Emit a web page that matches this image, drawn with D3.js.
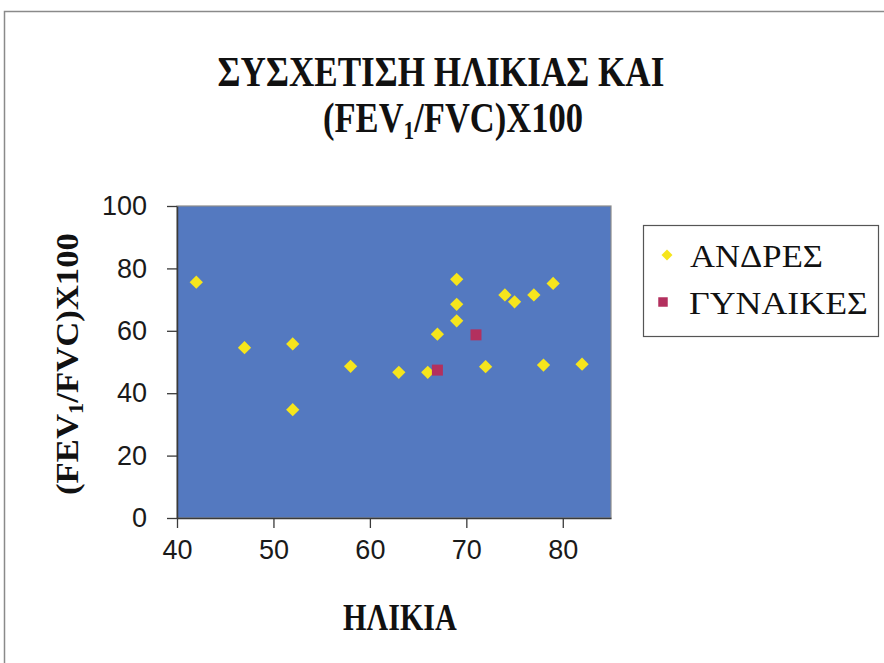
<!DOCTYPE html>
<html>
<head>
<meta charset="utf-8">
<script src="https://cdn.jsdelivr.net/npm/d3@7"></script>
<style>
  html, body { margin: 0; padding: 0; background: #ffffff; }
  svg { display: block; }
</style>
</head>
<body>
<svg id="chart" width="884" height="663"></svg>
<script>
// Age (years) vs FEV1/FVC ratio (%)
const menAge   = [42, 47, 52, 52, 58, 63, 66, 67, 69, 69, 69, 72, 74, 75, 77, 79, 78, 82];
const menRatio = [75.6, 54.6, 55.8, 34.7, 48.6, 46.7, 46.7, 58.9, 76.5, 68.5, 63.2, 48.5, 71.5, 69.3, 71.5, 75.2, 49.0, 49.3];
const womenAge   = [67, 71];
const womenRatio = [47.4, 58.7];

const xTicks = [40, 50, 60, 70, 80];
const yTicks = [0, 20, 40, 60, 80, 100];

const seriesNames = ["ΑΝΔΡΕΣ", "ΓΥΝΑΙΚΕΣ"];
const titleLines = ["ΣΥΣΧΕΤΙΣΗ ΗΛΙΚΙΑΣ ΚΑΙ", "(FEV", "1", "/FVC)X100"];
const xTitle = "ΗΛΙΚΙΑ";

const svg = d3.select("#chart");
const serif = "'Liberation Serif', 'Times New Roman', serif";
const sans = "'Liberation Sans', Arial, sans-serif";

// outer chart frame
svg.append("path")
  .attr("d", "M4.5,663 L4.5,11.5 L884,11.5")
  .attr("fill", "none").attr("stroke", "#8a8a8a").attr("stroke-width", 1.5);

const plot = { left: 177, right: 611, top: 206, bottom: 518 };

const x = d3.scaleLinear().domain([40, 85]).range([plot.left, plot.right]);
const y = d3.scaleLinear().domain([0, 100]).range([plot.bottom, plot.top]);

// plot area
svg.append("rect")
  .attr("x", plot.left).attr("y", plot.top)
  .attr("width", plot.right - plot.left).attr("height", plot.bottom - plot.top)
  .attr("fill", "#5479c0")
  .attr("stroke", "#8c8c8c").attr("stroke-width", 1.2);

// squeeze a text element horizontally so it spans the given width
function fitWidth(sel, width, cx, cy) {
  const w = sel.node().getBBox().width;
  const k = width / w;
  sel.attr("transform", `translate(${cx},${cy}) scale(${k},1)`);
}

// axes
const xAxis = svg.append("g")
  .attr("transform", `translate(0,${plot.bottom})`)
  .call(d3.axisBottom(x).tickValues(xTicks).tickSize(10).tickPadding(12).tickSizeOuter(0));
const yAxis = svg.append("g")
  .attr("transform", `translate(${plot.left},0)`)
  .call(d3.axisLeft(y).tickValues(yTicks).tickSize(10).tickPadding(20).tickSizeOuter(0));

[xAxis, yAxis].forEach(g => {
  g.select(".domain").attr("stroke", "#3a3a3a").attr("stroke-width", 1.5);
  g.selectAll(".tick line").attr("stroke", "#3a3a3a").attr("stroke-width", 1.3);
  g.selectAll(".tick text")
    .attr("fill", "#1a1a1a")
    .style("font-family", sans).style("font-size", "27px");
});
xAxis.selectAll(".tick text").attr("dy", "0.71em");

// men: yellow diamonds
const diamond = d3.symbol().type(d3.symbolSquare).size(88);
svg.append("g").selectAll("path")
  .data(menAge.map((a, i) => [a, menRatio[i]]))
  .join("path")
  .attr("d", diamond)
  .attr("transform", d => `translate(${x(d[0])},${y(d[1])}) rotate(45)`)
  .attr("fill", "#f6e51c");

// women: crimson squares
const square = d3.symbol().type(d3.symbolSquare).size(121);
svg.append("g").selectAll("path")
  .data(womenAge.map((a, i) => [a, womenRatio[i]]))
  .join("path")
  .attr("d", square)
  .attr("transform", d => `translate(${x(d[0])},${y(d[1])})`)
  .attr("fill", "#b3305e");

// title
const t1 = svg.append("text")
  .attr("text-anchor", "middle")
  .style("font-family", serif).style("font-weight", "bold").style("font-size", "42px")
  .attr("fill", "#111")
  .text(titleLines[0]);
fitWidth(t1, 447, 441, 86);

const t2 = svg.append("text")
  .attr("text-anchor", "middle")
  .style("font-family", serif).style("font-weight", "bold").style("font-size", "42px")
  .attr("fill", "#111");
t2.append("tspan").text(titleLines[1]);
t2.append("tspan").attr("dy", 7).style("font-size", "26px").text(titleLines[2]);
t2.append("tspan").attr("dy", -7).text(titleLines[3]);
fitWidth(t2, 260, 453, 132);

// y axis title (rotated)
const yt = svg.append("text")
  .attr("text-anchor", "middle")
  .style("font-family", serif).style("font-weight", "bold").style("font-size", "31px")
  .attr("fill", "#111");
yt.append("tspan").text(titleLines[1]);
yt.append("tspan").attr("dy", 5).style("font-size", "20px").text(titleLines[2]);
yt.append("tspan").attr("dy", -5).text(titleLines[3]);
{
  const w = yt.node().getBBox().width;
  const k = 262 / w;
  yt.attr("transform", `translate(78,364) rotate(-90) scale(${k},1)`);
}

// x axis title
const xt = svg.append("text")
  .attr("text-anchor", "middle")
  .style("font-family", serif).style("font-weight", "bold").style("font-size", "37px")
  .attr("fill", "#111")
  .text(xTitle);
fitWidth(xt, 114, 400, 630);

// legend
const legend = svg.append("g");
legend.append("rect")
  .attr("x", 643.5).attr("y", 225.5).attr("width", 235).attr("height", 111)
  .attr("fill", "#fff").attr("stroke", "#555").attr("stroke-width", 1.2);

legend.append("path")
  .attr("d", d3.symbol().type(d3.symbolSquare).size(60))
  .attr("transform", "translate(667,255) rotate(45)")
  .attr("fill", "#f6e51c");
legend.append("path")
  .attr("d", d3.symbol().type(d3.symbolSquare).size(90))
  .attr("transform", "translate(663,302)")
  .attr("fill", "#b3305e");

const l1 = legend.append("text")
  .attr("text-anchor", "start")
  .style("font-family", serif).style("font-size", "32px").attr("fill", "#111")
  .text(seriesNames[0]);
{
  const w = l1.node().getBBox().width;
  l1.attr("transform", `translate(690,267) scale(${133 / w},1)`);
}
const l2 = legend.append("text")
  .attr("text-anchor", "start")
  .style("font-family", serif).style("font-size", "32px").attr("fill", "#111")
  .text(seriesNames[1]);
{
  const w = l2.node().getBBox().width;
  l2.attr("transform", `translate(689,314) scale(${179 / w},1)`);
}
</script>
</body>
</html>
